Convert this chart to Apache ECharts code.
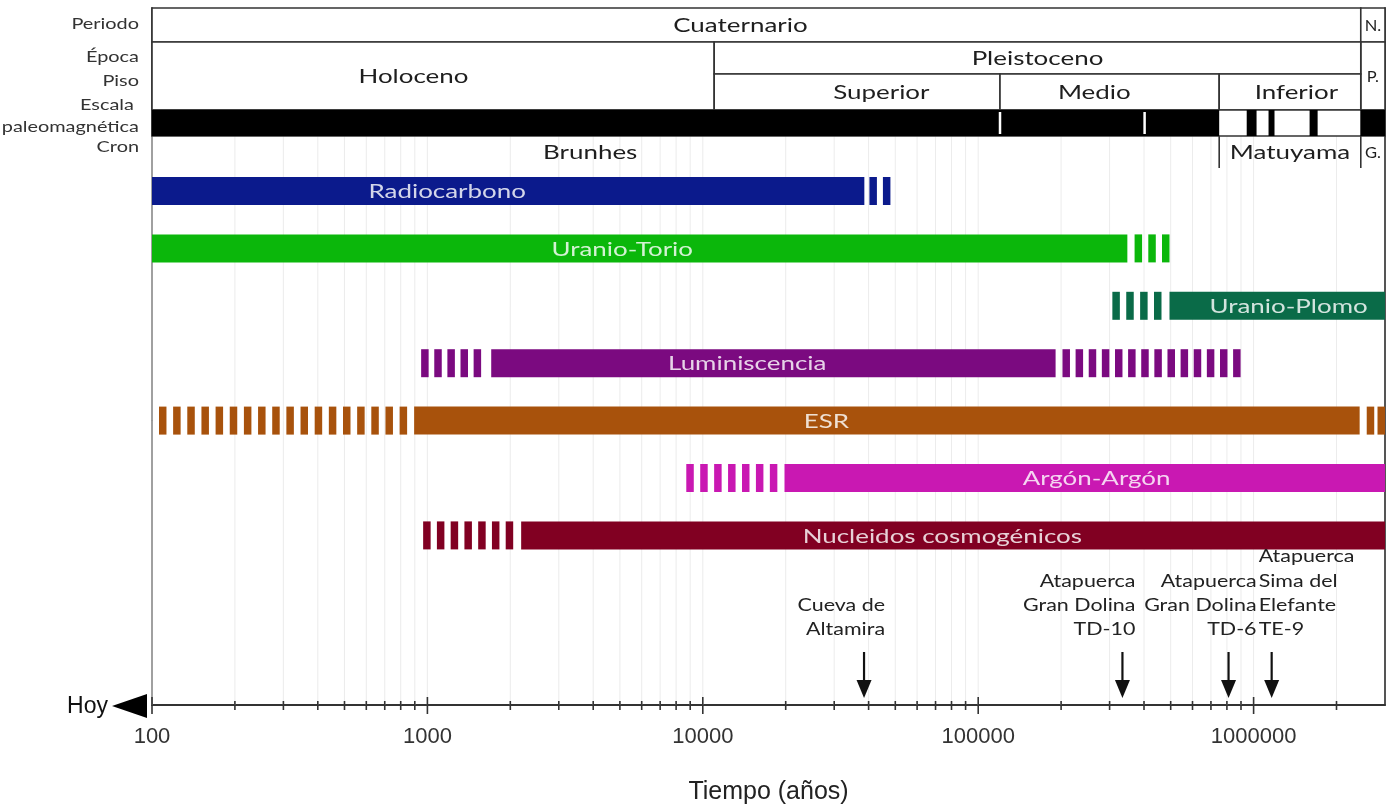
<!DOCTYPE html>
<html>
<head>
<meta charset="utf-8">
<script src="https://cdn.jsdelivr.net/npm/echarts@6/dist/echarts.min.js"></script>
<style>
  html, body { margin: 0; padding: 0; background: #fff; }
  #chart { width: 1397px; height: 806px; }
</style>
</head>
<body>
<div id="chart"></div>
<script>
// ---- data (años antes del presente) ----
const xMin = 100
const xMax = 3000000
const majorTicks = [100, 1000, 10000, 100000, 1000000]
const minorMultipliers = [2, 3, 4, 5, 6, 7, 8, 9]

const periodo = [['Cuaternario', 100, 2450000], ['N.', 2450000, 3000000]]
const epoca = [['Holoceno', 100, 11000], ['P.', 2450000, 3000000]]
const epocaSuperior = [['Pleistoceno', 11000, 2450000]]
const piso = [['Superior', 11000, 120000], ['Medio', 120000, 750000], ['Inferior', 750000, 2450000]]
const cron = [['Brunhes', 100, 750000], ['Matuyama', 750000, 2450000], ['G.', 2450000, 3000000]]
const polaridadNormal = [[100, 750000], [944000, 1025000], [1133000, 1191000], [1597000, 1708000], [2440000, 3000000]]
const cortesPolaridad = [120000, 402000]

const metodos = ['Radiocarbono', 'Uranio-Torio', 'Uranio-Plomo', 'Luminiscencia', 'ESR', 'Argón-Argón', 'Nucleidos cosmogénicos']
const rangoFiable = [[100, 38600], [100, 348000], [495000, 3000000], [1705, 191000], [895, 2427000], [19800, 3000000], [2190, 3000000]]
// [desde, hasta, nº de trazos]
const extensionJoven = [null, null, [307000, 463000, 4], [949, 1567, 5], [106, 844, 18], [8710, 18650, 7], [965, 2049, 7]]
const extensionAntigua = [[40270, 48000, 2], [369700, 495000, 3], null, [202300, 897000, 14], [2575000, 3000000, 2], null, null]

const yacimientos = [
  ['Cueva de', 'Altamira'],
  ['Atapuerca', 'Gran Dolina', 'TD-10'],
  ['Atapuerca', 'Gran Dolina', 'TD-6'],
  ['Atapuerca', 'Sima del', 'Elefante', 'TE-9'],
]
const edadYacimiento = [38500, 334000, 811000, 1163000]

const rowLabels = ['Periodo', 'Época', 'Piso', 'Escala ', 'paleomagnética', 'Cron']

// ---- layout / style ----
const colores = ['#0b1a8c', '#0bb70b', '#0a6b48', '#7b0a80', '#a8520c', '#c918b2', '#810022']
const labelAt = {
  Cuaternario: 13700, Holoceno: 890, Superior: 44500, Medio: 264000, Inferior: 1430000, Brunhes: 3900,
  Radiocarbono: 1180, 'Uranio-Torio': 5100, 'Uranio-Plomo': 1340000, Luminiscencia: 14500,
  ESR: 28100, 'Argón-Argón': 269000, 'Nucleidos cosmogénicos': 74100,
}
const marcaTexto = [['right', 21], ['right', 13], ['right', 28], ['left', -13]]
const rowLabelPos = [[139, 24], [139, 57], [139, 81], [139, 105], [139, 127], [139, 147]]

const FONT = 'Lato, "Open Sans", sans-serif'
const SX = 1.33
const LINE = '#333'
const barHalf = 14
const rowCenter = (i) => 183 + 57.4 * i
const dashW = 7.5

const minorTicks = []
majorTicks.forEach((d) => minorMultipliers.forEach((m) => { if (d * m < xMax) minorTicks.push(d * m) }))
const allTicks = majorTicks.concat(minorTicks)

function lighten(hex, t) {
  const n = parseInt(hex.slice(1), 16)
  const c = [(n >> 16) & 255, (n >> 8) & 255, n & 255].map((v) => Math.round(v + (255 - v) * t))
  return `rgb(${c.join(',')})`
}

function textEl(x, y, text, size, align, fill, scale) {
  return {
    type: 'text', x, y, scaleX: scale || SX,
    style: { text, fontSize: size, fontFamily: FONT, fill: fill || '#222', align: align || 'center', verticalAlign: 'middle' },
  }
}

function cellSeries(cells, top, bottom, boxed) {
  return {
    type: 'custom', silent: true, z: 3,
    data: cells.map((c) => [c[1], top]),
    renderItem: (params, api) => {
      const c = cells[params.dataIndex]
      const p0 = api.coord([c[1], top])
      const p1 = api.coord([c[2], bottom])
      const w = p1[0] - p0[0]
      const cx = labelAt[c[0]] ? api.coord([labelAt[c[0]], top])[0] : p0[0] + w / 2
      const children = []
      if (boxed) {
        children.push({ type: 'rect', shape: { x: p0[0], y: p0[1], width: w, height: p1[1] - p0[1] }, style: { fill: '#fff', stroke: LINE, lineWidth: 1.6 } })
      } else if (c[2] < xMax) {
        children.push({ type: 'line', shape: { x1: p1[0], y1: p0[1], x2: p1[0], y2: p1[1] }, style: { stroke: LINE, lineWidth: 1.6 } })
      }
      const small = w < 40
      children.push(textEl(cx, (p0[1] + p1[1]) / 2 + 1, c[0], small ? 15 : 19.5, 'center', '#1e1e1e', small ? 1.1 : SX))
      return { type: 'group', children }
    },
  }
}

const chart = echarts.init(document.getElementById('chart'), null, { renderer: 'canvas' })

const yAxisBase = {
  type: 'value', min: 0, max: 697, inverse: true,
  axisLine: { show: true, lineStyle: { color: '#555', width: 2 } },
  axisTick: { show: false }, axisLabel: { show: false }, splitLine: { show: false },
}

chart.setOption({
  animation: false,
  backgroundColor: '#fff',
  grid: { left: 152, right: 12, top: 8, bottom: 101, containLabel: false, outerBoundsMode: 'none' },
  xAxis: {
    type: 'log', logBase: 10, min: xMin, max: xMax,
    name: 'Tiempo (años)', nameLocation: 'middle', nameGap: 75,
    nameTextStyle: { fontSize: 25, fontFamily: '"Liberation Sans", Arial, sans-serif', color: '#222' },
    axisLine: { show: true, onZero: false, lineStyle: { color: '#333', width: 2 } },
    axisTick: { show: false },
    splitLine: { show: false },
    axisLabel: {
      showMaxLabel: false, margin: 21, fontSize: 22, color: '#333',
      fontFamily: '"Liberation Sans", Arial, sans-serif',
      formatter: (v) => {
        const r = Math.round(v)
        return majorTicks.includes(r) ? String(r) : ''
      },
    },
  },
  yAxis: [
    Object.assign({ position: 'left' }, yAxisBase),
    Object.assign({ position: 'right' }, yAxisBase),
  ],
  graphic: [
    ...rowLabels.map((t, i) => ({
      type: 'text', x: rowLabelPos[i][0], y: rowLabelPos[i][1], scaleX: 1.3,
      style: { text: t, fontSize: 15.3, fontFamily: FONT, fill: '#333', align: 'right', verticalAlign: 'middle' },
    })),
    {
      type: 'text', x: 108, y: 707,
      style: { text: 'Hoy', fontSize: 23, fontFamily: '"Liberation Sans", Arial, sans-serif', fill: '#111', align: 'right', verticalAlign: 'middle' },
    },
    { type: 'polygon', shape: { points: [[112, 706], [147, 694], [147, 718]] }, style: { fill: '#000' } },
  ],
  series: [
    // faint vertical grid
    {
      type: 'custom', silent: true, z: 1,
      data: allTicks.map((v) => [v, 128]),
      renderItem: (params, api) => {
        const v = allTicks[params.dataIndex]
        const a = api.coord([v, 128])
        const b = api.coord([v, 697])
        return { type: 'line', shape: { x1: a[0], y1: a[1], x2: b[0], y2: b[1] }, style: { stroke: '#ececec', lineWidth: 1 } }
      },
    },
    cellSeries(periodo, 0, 34, true),
    cellSeries(epoca, 34, 102, true),
    cellSeries(epocaSuperior, 34, 66, true),
    cellSeries(piso, 66, 102, true),
    // paleomagnetic row frame
    {
      type: 'custom', silent: true, z: 3,
      data: [[xMin, 102]],
      renderItem: (params, api) => {
        const a = api.coord([xMin, 102])
        const b = api.coord([xMax, 128])
        return { type: 'rect', shape: { x: a[0], y: a[1], width: b[0] - a[0], height: b[1] - a[1] }, style: { fill: '#fff', stroke: LINE, lineWidth: 1.6 } }
      },
    },
    {
      type: 'custom', silent: true, z: 4,
      data: polaridadNormal.map((p) => [p[0], 102]),
      renderItem: (params, api) => {
        const p = polaridadNormal[params.dataIndex]
        const a = api.coord([p[0], 102])
        const b = api.coord([p[1], 128])
        return { type: 'rect', shape: { x: a[0], y: a[1], width: b[0] - a[0], height: b[1] - a[1] }, style: { fill: '#000' } }
      },
    },
    {
      type: 'custom', silent: true, z: 5,
      data: cortesPolaridad.map((v) => [v, 102]),
      renderItem: (params, api) => {
        const v = cortesPolaridad[params.dataIndex]
        const a = api.coord([v, 104])
        const b = api.coord([v, 126])
        return { type: 'line', shape: { x1: a[0], y1: a[1], x2: b[0], y2: b[1] }, style: { stroke: '#fff', lineWidth: 2.5 } }
      },
    },
    cellSeries(cron, 128, 160, false),
    // dating methods
    {
      type: 'custom', silent: true, z: 6,
      data: metodos.map((m, i) => [rangoFiable[i][0], rowCenter(i)]),
      renderItem: (params, api) => {
        const i = params.dataIndex
        const yc = rowCenter(i)
        const color = colores[i]
        const a = api.coord([rangoFiable[i][0], yc - barHalf])
        const b = api.coord([rangoFiable[i][1], yc + barHalf])
        const children = [{ type: 'rect', shape: { x: a[0], y: a[1], width: b[0] - a[0], height: b[1] - a[1] }, style: { fill: color } }]
        ;[extensionJoven[i], extensionAntigua[i]].forEach((ext) => {
          if (!ext) return
          const x0 = api.coord([ext[0], yc])[0]
          const x1 = api.coord([ext[1], yc])[0]
          const n = ext[2]
          const step = n > 1 ? (x1 - x0 - dashW) / (n - 1) : 0
          for (let k = 0; k < n; k++) {
            children.push({ type: 'rect', shape: { x: x0 + k * step, y: a[1], width: dashW, height: b[1] - a[1] }, style: { fill: color } })
          }
        })
        const lx = api.coord([labelAt[metodos[i]], yc])[0]
        children.push(textEl(lx, (a[1] + b[1]) / 2 + 1, metodos[i], 19.5, 'center', lighten(color, 0.82)))
        return { type: 'group', children }
      },
    },
    // sites
    {
      type: 'custom', silent: true, z: 6,
      data: edadYacimiento.map((v) => [v, 622]),
      renderItem: (params, api) => {
        const i = params.dataIndex
        const v = edadYacimiento[i]
        const ax = api.coord([v, 0])[0]
        const y = (val) => api.coord([v, val])[1]
        const children = [
          { type: 'line', shape: { x1: ax, y1: y(644), x2: ax, y2: y(676) }, style: { stroke: '#111', lineWidth: 2.2 } },
          { type: 'polygon', shape: { points: [[ax - 7.5, y(672)], [ax + 7.5, y(672)], [ax, y(690)]] }, style: { fill: '#111' } },
        ]
        const lines = yacimientos[i]
        const [align, dx] = marcaTexto[i]
        lines.forEach((t, j) => {
          const ly = y(622 - (lines.length - 1 - j) * 24.3)
          children.push(textEl(ax + dx, ly, t, 16.5, align, '#222', 1.3))
        })
        return { type: 'group', children }
      },
    },
    // axis ticks
    {
      type: 'custom', silent: true, z: 7,
      data: allTicks.map((v) => [v, 697]),
      renderItem: (params, api) => {
        const v = allTicks[params.dataIndex]
        const major = majorTicks.includes(v)
        const a = api.coord([v, major ? 689 : 693])
        const b = api.coord([v, major ? 706 : 702])
        return { type: 'line', shape: { x1: a[0], y1: a[1], x2: b[0], y2: b[1] }, style: { stroke: '#333', lineWidth: 1.6 } }
      },
    },
  ],
})
</script>
</body>
</html>
